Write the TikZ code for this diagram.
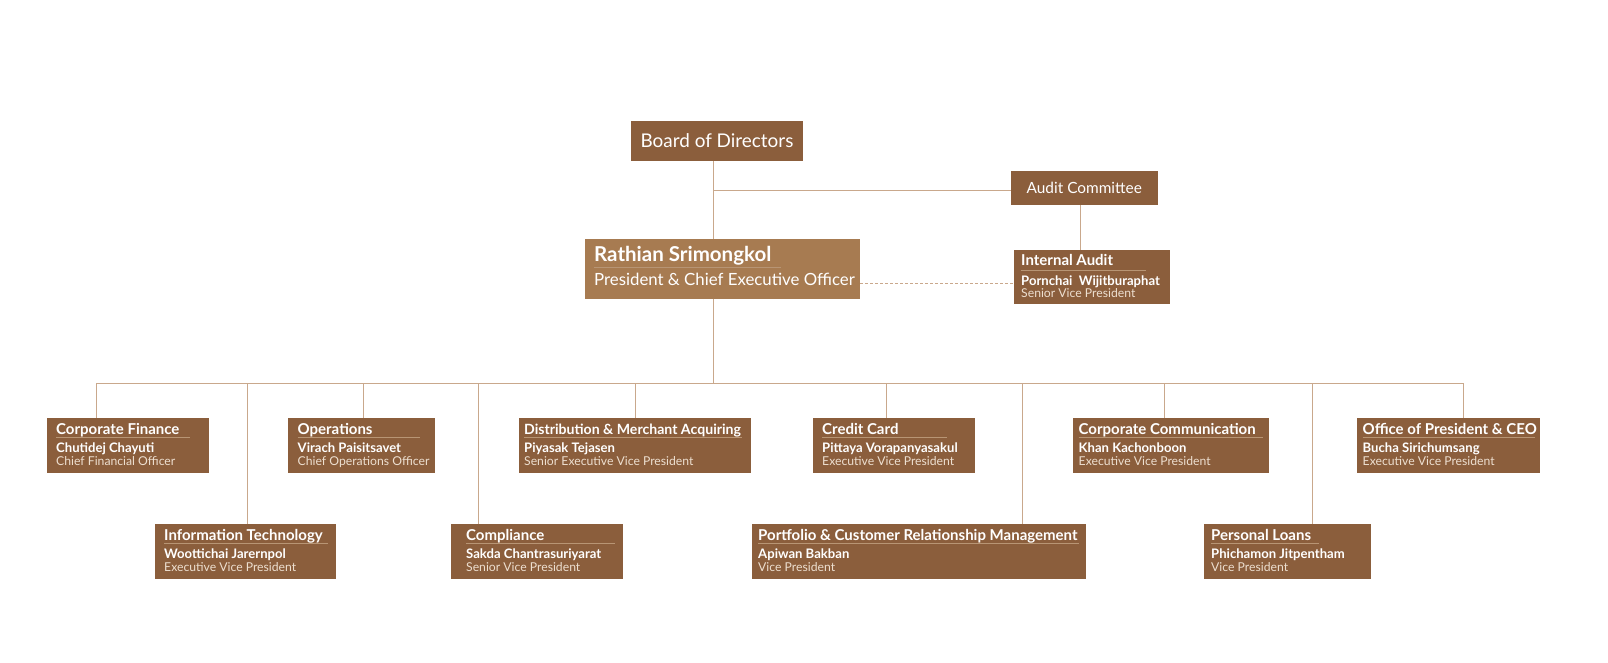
\documentclass[tikz,border=0pt]{standalone}
\usepackage{fontspec}
\setmainfont{Lato}
\usetikzlibrary{calc}
\definecolor{boxbrown}{HTML}{8B5E3C}
\definecolor{ceobrown}{HTML}{A77B51}
\definecolor{linetan}{HTML}{C9A88C}
\definecolor{ruletan}{HTML}{B89574}
\definecolor{ttltext}{HTML}{FFFFFF}
\definecolor{postext}{HTML}{EDDFD0}
\tikzset{
  orgbox/.style={fill=boxbrown, draw=none, inner sep=0pt, outer sep=0pt, anchor=north west},
  ttl/.style={anchor=base west, inner sep=0pt, text=ttltext, font=\fontsize{15}{17}\selectfont\bfseries},
  nm/.style={anchor=base west, inner sep=0pt, text=ttltext, font=\fontsize{13.1}{15}\selectfont\bfseries},
  ps/.style={anchor=base west, inner sep=0pt, text=postext, font=\fontsize{12.2}{14}\selectfont},
  rulel/.style={draw=ruletan, line width=1pt},
  conn/.style={draw=linetan, line width=1pt},
}
% #1 name, #2 x, #3 y, #4 w, #5 pad, #6 title, #7 person, #8 position, #9 rule end (absolute x)
\newcommand{\unitbox}[9]{%
  \node[orgbox, minimum width=#4, minimum height=55] (#1) at (#2,#3) {};
  \node[ttl] (#1-t) at ($(#1.north west)+(#5,16)$) {#6};
  \draw[rulel] ($(#1.north west)+(#5,19.5)$) -- ($(#1.north west)+(#9-#2,19.5)$);
  \node[nm] (#1-n) at ($(#1.north west)+(#5,34.5)$) {#7};
  \node[ps] (#1-p) at ($(#1.north west)+(#5,47.5)$) {#8};
}
\begin{document}
\begin{tikzpicture}[x=1pt,y=-1pt]
\fill[white] (0,0) rectangle (1608,662);
\useasboundingbox (0,0) rectangle (1608,662);

% top
\node[fill=boxbrown, inner sep=0pt, minimum width=172, minimum height=40, text=ttltext,
      font=\fontsize{18.9}{21}\selectfont] (board) at (717,141) {Board of Directors};
\node[fill=boxbrown, inner sep=0pt, minimum width=146.5, minimum height=34, text=ttltext,
      font=\fontsize{15.4}{17}\selectfont] (ac) at (1084.25,188) {Audit Committee};

% CEO
\node[orgbox, fill=ceobrown, minimum width=275, minimum height=60] (ceo) at (585,238.5) {};
\node[anchor=base west, inner sep=0pt, text=ttltext, font=\fontsize{20.5}{23}\selectfont\bfseries] (ceo-t)
   at ($(ceo.north west)+(9,22.5)$) {Rathian Srimongkol};
\draw[rulel] ($(ceo.north west)+(9,28.5)$) -- ($(ceo.north west)+(196,28.5)$);
\node[anchor=base west, inner sep=0pt, text=ttltext, font=\fontsize{16.8}{19}\selectfont] (ceo-p)
   at ($(ceo.north west)+(9,46.5)$) {President \& Chief Executive Officer};

% Internal audit
\node[orgbox, minimum width=156, minimum height=54] (ia) at (1013.5,249.5) {};
\node[ttl] (ia-t) at ($(ia.north west)+(7.5,15.5)$) {Internal Audit};
\draw[rulel] ($(ia.north west)+(7,21)$) -- ($(ia.north west)+(132.5,21)$);
\node[nm] (ia-n) at ($(ia.north west)+(7.5,35.5)$) {Pornchai\ \ Wijitburaphat};
\node[ps] (ia-p) at ($(ia.north west)+(7.5,47.5)$) {Senior Vice President};

% row 1
\unitbox{cf}{47}{418}{162}{9}{Corporate Finance}{Chutidej Chayuti}{Chief Financial Officer}{190}
\unitbox{op}{288}{418}{147}{9.5}{Operations}{Virach Paisitsavet}{Chief Operations Officer}{420}
\unitbox{dm}{519}{418}{232}{5}{\fontsize{14.1}{16}\selectfont Distribution \& Merchant Acquiring}{Piyasak Tejasen}{Senior Executive Vice President}{742}
\unitbox{cc}{813}{418}{162}{9}{Credit Card}{Pittaya Vorapanyasakul}{Executive Vice President}{947}
\unitbox{com}{1073}{418}{196}{5.5}{Corporate Communication}{Khan Kachonboon}{Executive Vice President}{1262.5}
\unitbox{off}{1357}{418}{183}{5.5}{Office of President \& CEO}{Bucha Sirichumsang}{Executive Vice President}{1535}
% row 2
\unitbox{it}{155}{524}{181}{9}{Information Technology}{Woottichai Jarernpol}{Executive Vice President}{328}
\unitbox{comp}{451}{524}{172}{15}{Compliance}{Sakda Chantrasuriyarat}{Senior Vice President}{614.5}
\unitbox{pcrm}{752}{524}{334}{6}{Portfolio \& Customer Relationship Management}{Apiwan Bakban}{Vice President}{1078.5}
\unitbox{pl}{1204}{524}{167}{7}{Personal Loans}{Phichamon Jitpentham}{Vice President}{1319}

% connectors
\coordinate (j) at (713,190.5);
\draw[conn] (board.south -| j) -- (ceo.north -| j);
\draw[conn] (j) -- (j -| ac.west);
\coordinate (k) at (1080,0);
\draw[conn] (ac.south -| k) -- (ia.north -| k);
\coordinate (d) at (0,283);
\draw[conn, dash pattern=on 3pt off 2pt] (ceo.east |- d) -- (ia.west |- d);
\coordinate (bus) at (713,383);
\draw[conn] (ceo.south -| bus) -- (bus);
\coordinate (busL) at (96.5,383);
\coordinate (busR) at (1463,383);
\draw[conn] (busL) -- (busR);
\foreach \n/\x in {cf/96.5, op/363, dm/635.5, cc/886.5, com/1164.5, off/1463, it/247, comp/478.5, pcrm/1022, pl/1312.5}{
  \coordinate (b-\n) at (\x,383);
  \draw[conn] (b-\n) -- (b-\n |- \n.north);
}
\end{tikzpicture}
\end{document}
